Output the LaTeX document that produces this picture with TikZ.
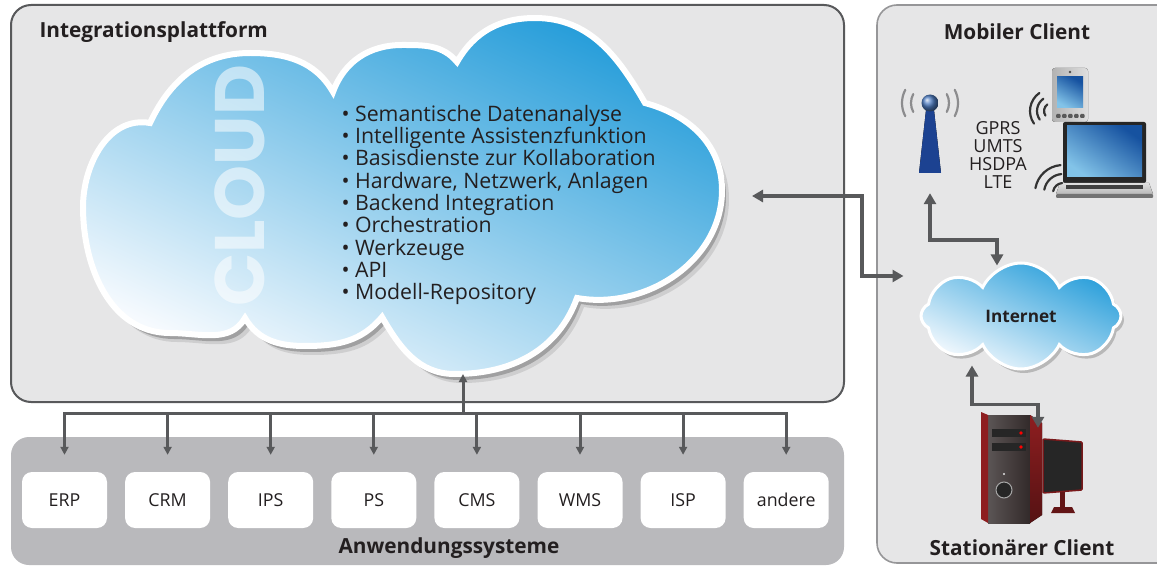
\documentclass[tikz,border=0pt]{standalone}
\usepackage{fontspec}
\setmainfont{Open Sans}
\newfontfamily\logofont{Poppins}
\usetikzlibrary{arrows.meta,positioning,shapes.symbols,shadows}
\definecolor{panelGray}{RGB}{230,230,231}
\definecolor{appsGray}{RGB}{185,185,188}
\definecolor{lineGray}{RGB}{88,89,91}
\definecolor{frameGray}{RGB}{150,150,152}
\definecolor{inkDark}{RGB}{35,31,32}
\definecolor{skyBlue}{RGB}{40,158,218}
\definecolor{skyPale}{RGB}{246,250,254}
\definecolor{towerBlue}{RGB}{28,66,145}
\definecolor{towerLight}{RGB}{100,150,215}
\definecolor{waveGray}{RGB}{140,140,142}
\definecolor{screenBlue}{RGB}{22,82,160}
\definecolor{screenLight}{RGB}{130,195,232}
\definecolor{pcRed}{RGB}{142,30,32}
\definecolor{pcDark}{RGB}{50,42,42}
\newcommand{\pxsize}[2]{\fontsize{#1}{#2}\selectfont}
\tikzset{
  panel/.style={rounded corners=20pt, fill=panelGray, draw=lineGray, line width=2pt},
  mobpanel/.style={rounded corners=20pt, fill=panelGray, draw=frameGray, line width=1.6pt},
  appspanel/.style={rounded corners=18pt, fill=appsGray},
  appbox/.style={fill=white, rounded corners=10pt, minimum width=85pt, minimum height=56pt, font=\pxsize{17.8}{20}, text=inkDark},
  title/.style={font=\bfseries\pxsize{20.8}{23}, text=inkDark},
  items/.style={align=left, font=\pxsize{21.3}{22.3}, text=inkDark},
  cloudfill/.style={draw=white, line width=6pt, top color=skyBlue, middle color=skyBlue!45!white, bottom color=skyPale, shading angle=-25,
    drop shadow={shadow xshift=4pt, shadow yshift=-6pt, opacity=.22, fill=black},
    drop shadow={shadow xshift=7pt, shadow yshift=-9pt, opacity=.10, fill=black}},
  netcloud/.style={cloud, cloud puffs=8, cloud puff arc=130, cloud ignores aspect, minimum width=200pt, minimum height=106pt,
    draw=white, line width=3pt, top color=skyBlue, bottom color=skyPale, shading angle=-25,
    drop shadow={shadow xshift=3pt, shadow yshift=-4pt, opacity=.2, fill=black},
    font=\bfseries\pxsize{17.2}{20}, text=inkDark},
  link/.style={draw=lineGray, line width=3pt},
  smallarrow/.style={link, -{Triangle[length=8pt, width=8pt]}},
  biarrow/.style={draw=lineGray, line width=3.5pt, {Triangle[length=11pt, width=12pt]}-{Triangle[length=11pt, width=12pt]}},
  wave/.style={draw=waveGray, line width=2.2pt, line cap=round},
  iconbox/.style={inner sep=0pt}
}

\begin{document}
\begin{tikzpicture}[x=1pt,y=1pt]
  \useasboundingbox (0,0) rectangle (1157,566);
  \clip (0,0) rectangle (1157,566);
  \fill[white] (0,0) rectangle (1157,566);

  \path[panel] (11,164) rectangle (844,561);
  \path[appspanel] (11,1) rectangle (844,129);
  \path[mobpanel] (877,3) rectangle (1185,561);

  \node[title, anchor=west] (plattform) at (36,534) {Integrationsplattform};
  \node[title] (mobil) at (1017,534) {Mobiler Client};
  \node[title] (anwendung) at (449,18) {Anwendungssysteme};
  \node[title] (stationaer) at (1022,18) {Stationärer Client};

  \path[cloudfill] (83,359) to[out=90,in=170] (150,443)
    to[out=65,in=180] (250,513) to[out=0,in=120] (333,474)
    to[out=70,in=180] (402,521) to[out=0,in=130] (457,504)
    to[out=60,in=180] (535,548) to[out=0,in=120] (645,463)
    to[out=-15,in=90] (722,376) to[out=270,in=-10] (577,268)
    to[out=250,in=0] (455,192) to[out=180,in=300] (382,249)
    to[out=230,in=0] (305,220) to[out=180,in=300] (245,248)
    to[out=240,in=0] (170,233) to[out=180,in=270] (83,359) -- cycle;
  \node[rotate=90, text=white, text opacity=.55, font=\logofont\bfseries\pxsize{70}{70}] (cloudword) at (240,380) {CLOUD};
  \node[items, anchor=west] (dienste) at (338,361) {%
    \textbullet\ Semantische Datenanalyse\\
    \textbullet\ Intelligente Assistenzfunktion\\
    \textbullet\ Basisdienste zur Kollaboration\\
    \textbullet\ Hardware, Netzwerk, Anlagen\\
    \textbullet\ Backend Integration\\
    \textbullet\ Orchestration\\
    \textbullet\ Werkzeuge\\
    \textbullet\ API\\
    \textbullet\ Modell-Repository};

  \foreach \name [count=\i] in {ERP,CRM,IPS,PS,CMS,WMS,ISP,andere}
    \node[appbox] (app\i) at ({64.5+(\i-1)*103.1},66) {\name};

  \node[netcloud] (inet) at (1021,250) {Internet};

  \node[iconbox, minimum width=30pt, minimum height=100pt] (tower) at (930,423) {};
  \fill[left color=towerBlue, middle color=towerLight, right color=towerBlue] (919,393) -- (926,456) -- (934,456) -- (941,393) -- cycle;
  \shade[ball color=towerLight!70!towerBlue] (930,463) circle (8.5);
  \foreach \r in {19,28} {
    \draw[wave] (930,463) ++(152:\r) arc[start angle=152, end angle=208, radius=\r];
    \draw[wave] (930,463) ++(-28:\r) arc[start angle=-28, end angle=28, radius=\r];
  }

  \node[align=center, font=\pxsize{18}{18}, text=inkDark] (funk) at (998,411) {GPRS\\UMTS\\HSDPA\\LTE};

  \fill[rounded corners=3pt, left color=gray!60, right color=gray!25] (1052,444) rectangle (1088,498);
  \fill[top color=screenBlue, bottom color=screenLight, shading angle=-30] (1057,458) rectangle (1083,489);
  \fill[black!70] (1070,494) circle (1.3);
  \foreach \k in {0,...,4}
    \fill[rounded corners=1pt, black!65] ({1056+\k*6},448) rectangle ++(4.5,4);
  \foreach \r in {8,15,22}
    \draw[wave, black!80] (1052,455) ++(125:\r) arc[start angle=125, end angle=215, radius=\r];

  \fill[rounded corners=2pt, black!85] (1063,383) rectangle (1146,444);
  \fill[top color=screenBlue, bottom color=screenLight, shading angle=-35] (1067,389) rectangle (1142,440);
  \fill[top color=gray!25, bottom color=gray!55] (1060,383) -- (1149,383) -- (1153,372) -- (1056,372) -- cycle;
  \fill[black!75] (1066,377) rectangle (1143,381);
  \fill[rounded corners=1pt, black!55] (1056,368) rectangle (1153,372);
  \foreach \r in {10,19,28}
    \draw[wave, black!80] (1063,373) ++(95:\r) arc[start angle=95, end angle=170, radius=\r];

  \node[iconbox, minimum width=100pt, minimum height=95pt] (pc) at (1038,90.5) {};
  \fill[rounded corners=1pt, black!85, draw=pcRed!85!black, line width=1.5pt] (1043,127) -- (1082,124) -- (1082,76) -- (1043,73) -- cycle;
  \fill[pcRed!70!black] (1060,58) rectangle (1065,74);
  \fill[pcRed!70!black] (1051,53) -- (1075,53) -- (1072,59) -- (1054,59) -- cycle;
  \fill[left color=pcDark!80!white, right color=pcDark] (988,43) rectangle (1030,151);
  \fill[pcRed] (981,47) -- (988,43) -- (988,151) -- (981,154) -- cycle;
  \fill[top color=pcRed, bottom color=pcRed!60!black] (1030,43) -- (1042,51) -- (1042,143) -- (1030,151) -- cycle;
  \fill[black!85] (992,129) rectangle (1026,137);
  \fill[black!85] (992,115) rectangle (1026,123);
  \fill[red] (1021,133) circle (1.8);
  \fill[red] (1021,119) circle (1.8);
  \fill[black!85, draw=gray!70, line width=1pt] (1004,76) circle (8);
  \fill[white!80!gray] (1004,92) circle (1.2);

  \coordinate (bus) at (463,153);
  \coordinate (cloudS) at (463,192);
  \coordinate (cloudE) at (752,370);
  \coordinate (inetIn) at ([shift={(-16pt,40pt)}]inet.west);

  \draw[link, line cap=rect] (app1.north |- bus) -- (app8.north |- bus);
  \draw[smallarrow] (bus) -- (cloudS);
  \foreach \i in {1,...,8}
    \draw[smallarrow] (app\i.north |- bus) -- ([yshift=17pt]app\i.north);
  \draw[biarrow] (cloudE) -- ++(110,0) |- (inetIn);
  \draw[biarrow] (tower.south) -- ++(0,-47) -| ([xshift=-24pt,yshift=-4pt]inet.north);
  \draw[biarrow] ([xshift=-49pt,yshift=5pt]inet.south) -- ++(0,-39) -| (pc.north);
\end{tikzpicture}
\end{document}
